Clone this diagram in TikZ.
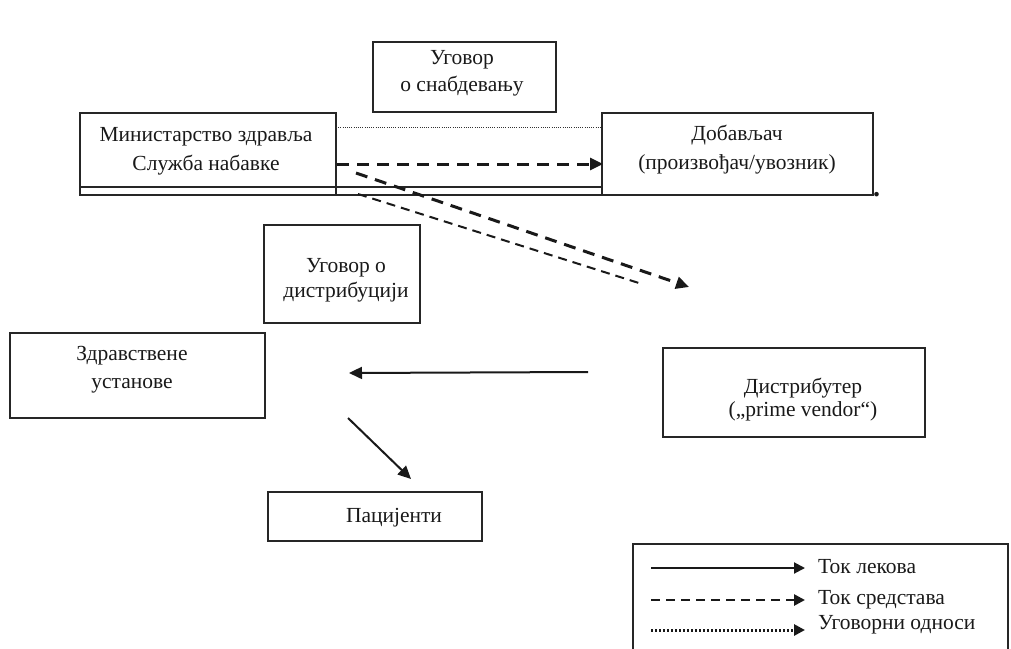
\documentclass[tikz,border=0pt]{standalone}
\usepackage{fontspec}
\setmainfont{Liberation Serif}
\usetikzlibrary{arrows.meta}

\begin{document}
\begin{tikzpicture}[x=1pt,y=-1pt,
  frame/.style={draw=black!85, line width=1.3pt},
  txt/.style={font=\fontsize{21.5}{#1}\selectfont, align=center, inner sep=0pt, text=black!90},
  txt/.default=27,
  tip/.style={-{Triangle[length=13pt,width=12pt]}},
  smalltip/.style={-{Triangle[length=11pt,width=11pt]}},
  drugs/.style={line width=2pt, black!90},
  funds/.style={line width=3pt, dash pattern=on 12pt off 8pt, black!90},
  fundsthin/.style={line width=2pt, dash pattern=on 9pt off 6pt, black!90},
  legfunds/.style={line width=2.6pt, dash pattern=on 9pt off 6pt, black!90},
  contract/.style={line width=0.8pt, dash pattern=on 1pt off 1.2pt, black!80},
  legcontract/.style={line width=3pt, dash pattern=on 2.2pt off 1.8pt, black!90}]

\useasboundingbox (0,0) rectangle (1011,648);
\clip (0,0) rectangle (1011,648);

% supply contract box
\draw[frame] (373,42) rectangle (556,112);
\node[txt] (snab) at (462,73) {Уговор\\о снабдевању};

% ministry / supplier table row
\draw[frame] (80,113) rectangle (336,195);
\draw[frame] (80,187) -- (602,187);
\draw[frame] (336,195) -- (602,195);
\draw[frame] (602,113) rectangle (873,195);
\node[txt=29] (min) at (206,151) {Министарство здравља\\Служба набавке};
\node[txt=29] (dob) at (737,150) {Добављач\\(произвођач/увозник)};
\node[txt, anchor=base west, font=\bfseries\fontsize{28}{30}\selectfont] (stop) at (873,196) {.};

% distribution contract
\draw[frame] (264,225) rectangle (420,323);
\node[txt=25] (ugd) at (346,280) {Уговор о\\дистрибуцији};

% health institutions
\draw[frame] (10,333) rectangle (265,418);
\node[txt=28] (zdr) at (132,370) {Здравствене\\установе};

% distributor
\draw[frame] (663,348) rectangle (925,437);
\node[txt=23] (dis) at (803,400) {Дистрибутер\\(„prime vendor“)};

% patients
\draw[frame] (268,492) rectangle (482,541);
\node[txt] (pac) at (394,518) {Пацијенти};

% connector end points
\coordinate (c1a) at (336,127);
\coordinate (c1b) at (602,127);
\coordinate (f1a) at (337,164);
\coordinate (f1b) at (603,164);
\coordinate (f2a) at (356,173);
\coordinate (f2b) at (689,287);
\coordinate (f3a) at (358,194);
\coordinate (f3b) at (642,284);
\coordinate (d1a) at (588,372);
\coordinate (d1b) at (349,373);
\coordinate (d2a) at (348,418);
\coordinate (d2b) at (411,479);

% connectors
\draw[contract] (c1a) -- (c1b);
\draw[funds, tip] (f1a) -- (f1b);
\draw[funds, tip] (f2a) -- (f2b);
\draw[fundsthin] (f3a) -- (f3b);
\draw[drugs, tip] (d1a) -- (d1b);
\draw[drugs, tip] (d2a) -- (d2b);

% legend
\draw[frame] (633,544) rectangle (1008,700);
\coordinate (l1a) at (651,568);
\coordinate (l1b) at (805,568);
\coordinate (l2a) at (651,600);
\coordinate (l2b) at (805,600);
\coordinate (l3a) at (651,630);
\coordinate (l3b) at (805,630);
\draw[drugs, smalltip] (l1a) -- (l1b);
\draw[legfunds, smalltip] (l2a) -- (l2b);
\draw[legcontract, smalltip] (l3a) -- (l3b);
\node[txt, anchor=west] (lg1) at (818,567) {Ток лекова};
\node[txt, anchor=west] (lg2) at (818,600) {Ток средстава};
\node[txt, anchor=west] (lg3) at (818,625) {Уговорни односи};
\end{tikzpicture}
\end{document}
